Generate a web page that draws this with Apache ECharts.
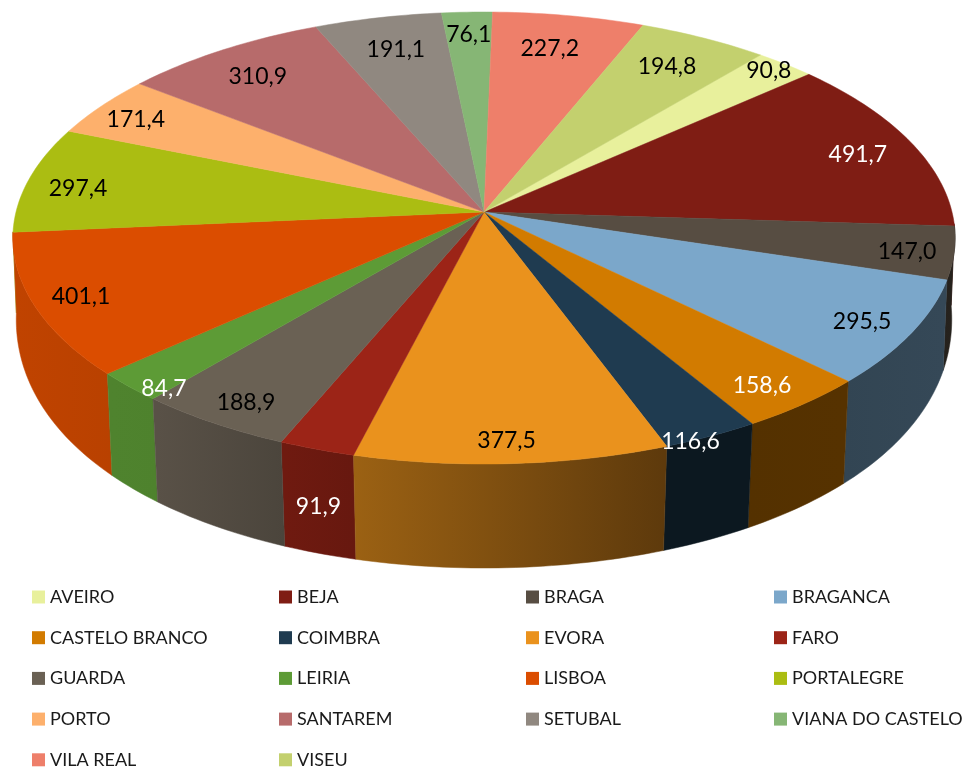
<!DOCTYPE html>
<html>
<head>
<meta charset="utf-8">
<style>
    html, body { margin: 0; padding: 0; background: #fff; }
    #chart { width: 968px; height: 767px; }
</style>
<script src="https://cdn.jsdelivr.net/npm/echarts@6/dist/echarts.min.js"></script>
</head>
<body>
<div id="chart"></div>
<script>
const districts = ['AVEIRO', 'BEJA', 'BRAGA', 'BRAGANCA', 'CASTELO BRANCO', 'COIMBRA', 'EVORA', 'FARO', 'GUARDA',
    'LEIRIA', 'LISBOA', 'PORTALEGRE', 'PORTO', 'SANTAREM', 'SETUBAL', 'VIANA DO CASTELO', 'VILA REAL', 'VISEU'];
const values = [90.8, 491.7, 147.0, 295.5, 158.6, 116.6, 377.5, 91.9, 188.9,
    84.7, 401.1, 297.4, 171.4, 310.9, 191.1, 76.1, 227.2, 194.8];
const colors = ['#e8f09c', '#7f1d14', '#574d42', '#7ba7ca', '#d27b00', '#1f3b50', '#ea921d', '#9c2417', '#6a6154',
    '#5d9b36', '#db4d00', '#abbd12', '#fdb06c', '#b76b6b', '#908880', '#86b675', '#ee7f6a', '#c3d06e'];
const whiteLabels = ['BEJA', 'CASTELO BRANCO', 'COIMBRA', 'FARO', 'LEIRIA'];

// label placement, as a share of the radius and a turn away from the slice middle (degrees)
const labelRadius = [0.955, 0.868, 0.902, 0.892, 0.894, 0.996, 0.912, 1.182, 0.898,
    0.955, 0.899, 0.886, 0.901, 0.841, 0.832, 0.885, 0.826, 0.829];
const labelTurn = [-0.7, 0.7, 0.2, 0.2, 0.8, 2.4, 0.3, -3.5, -0.4, -3, 0.3, -1.2, -0.35, -0.5, 0.3, 0, -0.9, -0.35];

// wall brightness by angle, front right is darkest
const wallShade = [[90, 0.44], [150, 0.40], [160, 0.40], [194, 0.66], [203, 0.71], [220, 0.84], [270, 0.88]];

const legendColumns = [
    ['AVEIRO', 'CASTELO BRANCO', 'GUARDA', 'PORTO', 'VILA REAL'],
    ['BEJA', 'COIMBRA', 'LEIRIA', 'SANTAREM', 'VISEU'],
    ['BRAGA', 'EVORA', 'LISBOA', 'SETUBAL'],
    ['BRAGANCA', 'FARO', 'PORTALEGRE', 'VIANA DO CASTELO'],
];
const legendLeft = [32, 279, 526, 774];

const startAngle = 40;
const wallFrom = 93, wallTo = 265; // the stretch of the rim that faces the viewer
const cx = 484, cy = 212, rx = 468, ry = 223, persp = 0.115;
const FONT = 'Lato, "Open Sans", sans-serif';

const total = values.reduce((a, b) => a + b, 0);
const angleOf = (i) => startAngle + values.slice(0, i).reduce((a, b) => a + b, 0) / total * 360;

function topPoint(deg, r) {
    const t = deg * Math.PI / 180;
    const X = r * Math.sin(t), Y = -r * Math.cos(t);
    const d = 1 - persp * Y;
    return [cx + rx * X / d, cy + ry * Y / d];
}

function bottomPoint(deg) {
    const t = deg * Math.PI / 180;
    const X = Math.sin(t), Y = -Math.cos(t);
    const shrink = 0.993 - 0.012 * Y * Y;
    return [cx + shrink * rx * X / (1 - persp * Y), 288 + 280 * Y];
}

function arc(from, to, fn) {
    const pts = [];
    const steps = Math.max(2, Math.ceil(Math.abs(to - from)));
    for (let s = 0; s <= steps; s++) pts.push(fn(from + (to - from) * s / steps));
    return pts;
}

function shadeAt(deg) {
    const d = Math.max(90, Math.min(270, ((deg % 360) + 360) % 360));
    for (let i = 1; i < wallShade.length; i++) {
        if (d <= wallShade[i][0]) {
            const [a, sa] = wallShade[i - 1], [b, sb] = wallShade[i];
            return sa + (sb - sa) * (d - a) / (b - a);
        }
    }
    return wallShade[wallShade.length - 1][1];
}

function darken(hex, k) {
    const n = parseInt(hex.slice(1), 16);
    const c = [n >> 16, (n >> 8) & 255, n & 255].map((v) => Math.round(v * k));
    return 'rgb(' + c.join(',') + ')';
}

function renderSlice(i, api) {
    const value = api.value(0);
    const a0 = angleOf(i);
    const a1 = a0 + value / total * 360;
    const color = colors[i];
    const children = [];

    // outer wall, only the part on the near side
    const w0 = Math.max(a0, wallFrom), w1 = Math.min(a1, wallTo);
    if (w1 > w0) {
        const outline = arc(w0, w1, (d) => topPoint(d, 1)).concat(arc(w1, w0, bottomPoint));
        const xa = bottomPoint(w0)[0], xb = bottomPoint(w1)[0];
        const fill = new echarts.graphic.LinearGradient(xa, 0, xb, 0, [
            { offset: 0, color: darken(color, shadeAt(w0)) },
            { offset: 1, color: darken(color, shadeAt(w1)) },
        ], true);
        children.push({
            type: 'polygon',
            shape: { points: outline },
            style: { fill: fill, stroke: fill, lineWidth: 0.5 },
            z2: 10 + Math.round(10 * -Math.cos((w0 + w1) / 2 * Math.PI / 180)),
        });
    }

    // top face
    children.push({
        type: 'polygon',
        shape: { points: [[cx, cy]].concat(arc(a0, a1, (d) => topPoint(d, 1))) },
        style: { fill: color, stroke: color, lineWidth: 0.5 },
        z2: 50,
    });

    // value label
    const pos = topPoint((a0 + a1) / 2 + labelTurn[i], labelRadius[i]);
    children.push({
        type: 'text',
        x: pos[0],
        y: pos[1] + 2,
        style: {
            text: value.toFixed(1).replace('.', ','),
            fill: whiteLabels.includes(districts[i]) ? '#fff' : '#000',
            font: '23px ' + FONT,
            align: 'center',
            verticalAlign: 'middle',
        },
        z2: 100,
    });

    return { type: 'group', children: children };
}

const chart = echarts.init(document.getElementById('chart'));

chart.setOption({
    backgroundColor: '#fff',
    animation: false,
    legend: legendColumns.map((names, c) => ({
        data: names,
        orient: 'vertical',
        left: legendLeft[c],
        top: 587,
        height: 220,
        padding: 0,
        itemGap: 20.7,
        itemWidth: 13,
        itemHeight: 13,
        icon: 'rect',
        selectedMode: false,
        textStyle: { color: '#1a1a1a', fontSize: 18, fontFamily: FONT, lineHeight: 20 },
    })),
    series: districts.map((name, i) => ({
        type: 'custom',
        name: name,
        coordinateSystem: 'none',
        silent: true,
        itemStyle: { color: colors[i] },
        data: [values[i]],
        renderItem: (params, api) => renderSlice(i, api),
    })),
});
</script>
</body>
</html>
